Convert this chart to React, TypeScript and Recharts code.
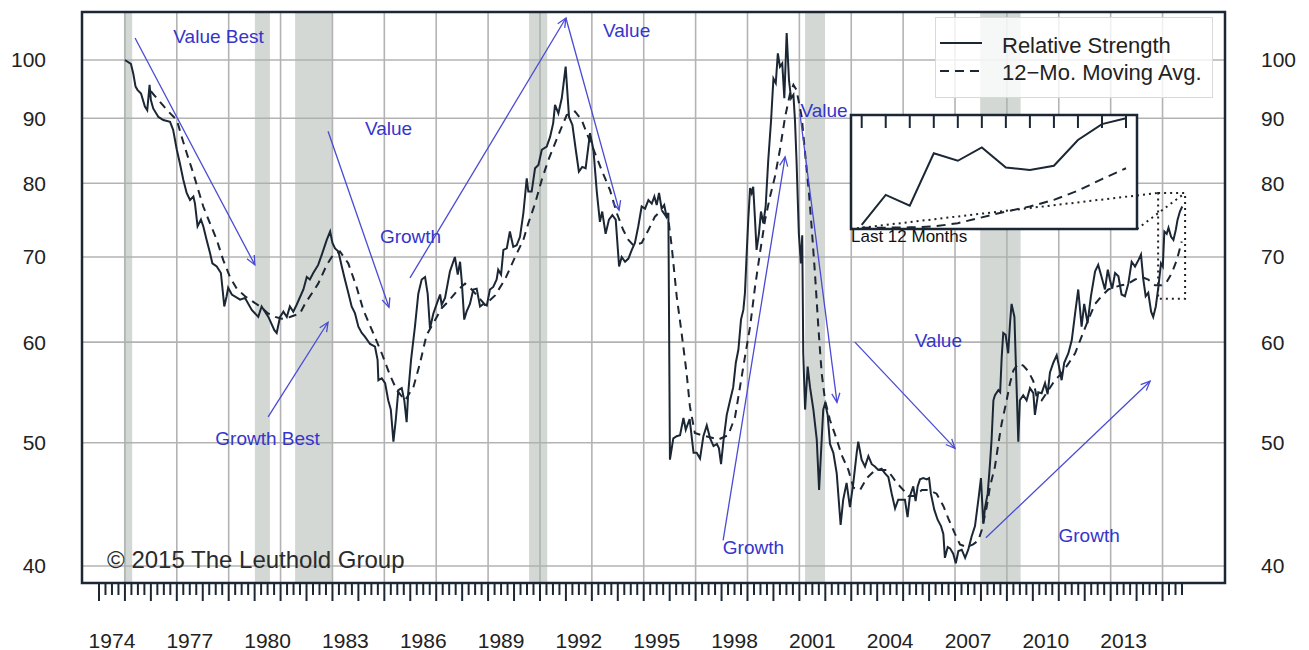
import React from "react";
import {
  LineChart,
  Line,
  XAxis,
  YAxis,
  CartesianGrid,
  ReferenceArea,
  ReferenceLine,
  ReferenceDot,
} from "recharts";

// Relative strength (value vs growth) at its turning points
const rsYears = [
  1975.0, 1975.23, 1975.32, 1975.41, 1975.49, 1975.62, 1975.77, 1975.86, 1975.95, 1976.0,
  1976.09, 1976.29, 1976.48, 1976.74, 1976.86, 1977.0, 1977.12, 1977.25, 1977.38, 1977.51,
  1977.64, 1977.7, 1977.8, 1977.93, 1978.02, 1978.15, 1978.28, 1978.37, 1978.54, 1978.7,
  1978.83, 1978.92, 1978.98, 1979.12, 1979.44, 1979.63, 1979.89, 1980.14, 1980.27, 1980.53,
  1980.76, 1980.85, 1980.98, 1981.11, 1981.24, 1981.36, 1981.49, 1981.62, 1981.88, 1982.01,
  1982.13, 1982.26, 1982.45, 1982.59, 1982.69, 1982.78, 1982.91, 1983.0, 1983.1, 1983.23,
  1983.36, 1983.48, 1983.61, 1983.74, 1983.87, 1984.0, 1984.13, 1984.25, 1984.45, 1984.64,
  1984.74, 1984.77, 1984.9, 1985.03, 1985.15, 1985.25, 1985.35, 1985.44, 1985.54, 1985.67,
  1985.77, 1985.86, 1985.92, 1986.03, 1986.18, 1986.31, 1986.44, 1986.57, 1986.67, 1986.76,
  1986.89, 1987.02, 1987.15, 1987.21, 1987.34, 1987.53, 1987.72, 1987.83, 1987.92, 1987.98,
  1988.08, 1988.17, 1988.3, 1988.43, 1988.56, 1988.69, 1988.82, 1988.95, 1989.07, 1989.2,
  1989.33, 1989.39, 1989.5, 1989.59, 1989.72, 1989.84, 1989.97, 1990.1, 1990.23, 1990.36,
  1990.49, 1990.55, 1990.68, 1990.81, 1990.94, 1991.07, 1991.26, 1991.39, 1991.51, 1991.58,
  1991.71, 1991.84, 1991.99, 1992.12, 1992.25, 1992.38, 1992.5, 1992.63, 1992.76, 1992.93,
  1993.06, 1993.19, 1993.31, 1993.4, 1993.53, 1993.66, 1993.79, 1993.92, 1994.05, 1994.15,
  1994.28, 1994.41, 1994.54, 1994.66, 1994.79, 1994.92, 1995.05, 1995.18, 1995.31, 1995.41,
  1995.5, 1995.59, 1995.69, 1995.79, 1995.88, 1995.95, 1996.01, 1996.14, 1996.27, 1996.4,
  1996.53, 1996.62, 1996.77, 1996.92, 1997.04, 1997.17, 1997.3, 1997.43, 1997.56, 1997.69,
  1997.82, 1997.9, 1997.98, 1998.07, 1998.2, 1998.33, 1998.45, 1998.55, 1998.65, 1998.75,
  1998.84, 1998.9, 1998.97, 1999.03, 1999.1, 1999.16, 1999.22, 1999.29, 1999.35, 1999.44,
  1999.52, 1999.61, 1999.7, 1999.8, 1999.91, 2000.0, 2000.09, 2000.17, 2000.25, 2000.34,
  2000.42, 2000.51, 2000.6, 2000.68, 2000.77, 2000.83, 2000.89, 2000.98, 2001.06, 2001.11,
  2001.15, 2001.22, 2001.32, 2001.41, 2001.54, 2001.67, 2001.76, 2001.86, 2001.92, 2001.99,
  2002.09, 2002.18, 2002.31, 2002.44, 2002.59, 2002.69, 2002.82, 2002.95, 2003.08, 2003.21,
  2003.27, 2003.4, 2003.53, 2003.66, 2003.79, 2003.91, 2004.04, 2004.17, 2004.3, 2004.43,
  2004.56, 2004.69, 2004.81, 2004.94, 2005.07, 2005.17, 2005.26, 2005.39, 2005.48, 2005.56,
  2005.65, 2005.78, 2005.91, 2006.0, 2006.07, 2006.2, 2006.33, 2006.46, 2006.55, 2006.61,
  2006.72, 2006.81, 2006.93, 2007.03, 2007.13, 2007.26, 2007.39, 2007.51, 2007.64, 2007.77,
  2007.9, 2008.0, 2008.09, 2008.16, 2008.26, 2008.35, 2008.41, 2008.48, 2008.54, 2008.67,
  2008.74, 2008.8, 2008.86, 2008.95, 2009.05, 2009.12, 2009.18, 2009.29, 2009.35, 2009.44,
  2009.5, 2009.63, 2009.76, 2009.89, 2010.02, 2010.08, 2010.21, 2010.34, 2010.47, 2010.57,
  2010.66, 2010.79, 2010.92, 2011.01, 2011.11, 2011.21, 2011.37, 2011.5, 2011.63, 2011.75,
  2011.88, 2011.98, 2012.11, 2012.24, 2012.4, 2012.52, 2012.65, 2012.78, 2012.89, 2012.97,
  2013.06, 2013.17, 2013.3, 2013.42, 2013.55, 2013.68, 2013.81, 2013.94, 2014.07, 2014.17,
  2014.26, 2014.35, 2014.45, 2014.56, 2014.64, 2014.74, 2014.84, 2014.94, 2015.01, 2015.07,
  2015.16, 2015.23, 2015.33, 2015.42, 2015.51, 2015.58, 2015.67, 2015.76,
];
const rsValues = [
  100.0, 99.3, 97.6, 95.3, 94.7, 94.1, 91.9, 91.3, 95.6, 93.0,
  91.6, 90.2, 89.7, 89.4, 88.1, 85.0, 82.9, 80.5, 78.6, 77.6,
  78.1, 77.1, 74.0, 74.9, 74.0, 72.2, 70.5, 69.2, 68.8, 68.0,
  64.0, 65.2, 66.2, 65.4, 64.8, 65.0, 63.6, 62.8, 64.0, 62.8,
  61.3, 61.0, 62.8, 63.4, 62.8, 64.0, 63.4, 64.2, 66.0, 67.5,
  67.2, 68.0, 69.0, 70.3, 71.3, 72.2, 73.3, 71.8, 71.1, 70.7,
  68.8, 67.2, 65.6, 64.0, 63.2, 61.7, 61.0, 60.6, 59.8, 59.5,
  58.1, 56.0, 56.2, 55.7, 54.0, 53.1, 50.1, 52.1, 55.0, 55.2,
  54.0, 51.9, 54.7, 58.1, 61.7, 65.5, 67.2, 67.5, 65.5, 61.5,
  63.2, 64.3, 65.4, 64.2, 65.0, 68.2, 70.0, 67.8, 69.4, 67.2,
  62.5, 63.4, 64.3, 66.0, 66.1, 64.0, 64.3, 64.1, 66.0, 66.3,
  67.2, 68.4, 67.8, 70.9, 71.1, 73.3, 71.3, 71.5, 72.6, 75.8,
  80.7, 78.8, 78.8, 82.2, 82.7, 85.0, 85.5, 87.0, 89.2, 92.2,
  90.8, 93.3, 98.8, 90.2, 88.9, 85.0, 81.7, 82.4, 82.2, 87.6,
  85.0, 78.8, 74.6, 76.0, 73.0, 74.9, 75.5, 74.9, 68.8, 70.0,
  69.4, 69.8, 70.9, 71.8, 74.0, 76.7, 76.4, 77.6, 77.1, 78.1,
  76.9, 78.6, 76.4, 76.9, 75.3, 75.8, 48.5, 50.4, 50.6, 50.7,
  52.3, 51.2, 52.2, 49.1, 49.1, 48.6, 50.6, 51.6, 50.4, 49.7,
  49.9, 49.5, 48.1, 50.1, 52.6, 54.0, 55.3, 57.8, 59.2, 62.5,
  63.6, 65.5, 70.5, 74.9, 79.3, 78.6, 79.5, 74.9, 70.9, 73.0,
  76.0, 74.4, 76.7, 83.4, 89.7, 96.7, 95.9, 101.2, 98.8, 99.4,
  93.3, 105.0, 96.4, 93.3, 93.9, 89.7, 83.4, 73.0, 69.2, 72.8,
  58.8, 53.1, 57.4, 55.3, 53.1, 50.3, 45.9, 50.3, 53.1, 53.7,
  52.6, 49.9, 49.1, 47.3, 43.1, 45.1, 46.5, 44.5, 46.5, 49.1,
  50.1, 48.5, 47.9, 48.8, 48.1, 47.9, 47.6, 47.7, 47.3, 47.0,
  45.6, 44.4, 45.1, 45.1, 45.1, 43.7, 45.4, 46.2, 45.0, 46.2,
  46.8, 46.9, 46.8, 46.9, 45.6, 44.3, 43.5, 43.0, 42.4, 40.6,
  41.4, 41.3, 40.9, 40.2, 41.1, 41.2, 40.6, 41.2, 42.2, 43.0,
  45.1, 46.9, 43.2, 44.5, 45.6, 48.2, 50.3, 54.0, 54.5, 55.0,
  54.8, 58.4, 61.0, 60.8, 58.8, 62.1, 64.3, 62.8, 57.3, 50.1,
  54.0, 54.5, 54.0, 55.2, 54.7, 52.6, 54.8, 54.7, 55.7, 54.6,
  56.8, 57.8, 58.6, 57.4, 56.0, 57.8, 58.8, 60.2, 63.2, 66.0,
  61.7, 64.3, 62.1, 65.2, 68.2, 69.0, 67.5, 66.0, 68.4, 67.2,
  66.1, 68.0, 67.6, 65.4, 65.2, 66.7, 69.4, 68.8, 69.6, 70.3,
  67.2, 65.2, 65.6, 63.4, 62.8, 64.0, 66.3, 69.2, 68.8, 73.3,
  73.0, 73.8, 72.6, 72.2, 73.5, 74.9, 76.0, 76.7,
];

// 12-month moving average
const maYears = [
  1976.0, 1976.67, 1977.0, 1977.19, 1977.38, 1977.64, 1977.83, 1978.02, 1978.28, 1978.54,
  1978.79, 1979.05, 1979.31, 1979.63, 1979.82, 1980.21, 1980.52, 1980.79, 1981.05, 1981.36,
  1981.75, 1981.94, 1982.45, 1982.78, 1983.03, 1983.29, 1983.61, 1983.93, 1984.19, 1984.57,
  1984.9, 1985.22, 1985.48, 1985.8, 1986.12, 1986.37, 1986.63, 1986.89, 1987.21, 1987.47,
  1987.85, 1988.11, 1988.37, 1988.88, 1989.27, 1989.65, 1990.04, 1990.36, 1990.55, 1990.81,
  1991.07, 1991.32, 1991.58, 1991.84, 1992.03, 1992.35, 1992.61, 1992.86, 1993.12, 1993.38,
  1993.7, 1993.96, 1994.21, 1994.41, 1994.6, 1994.92, 1995.18, 1995.43, 1995.69, 1995.95,
  1996.08, 1996.27, 1996.46, 1996.65, 1996.78, 1996.97, 1997.23, 1997.88, 1998.26, 1998.52,
  1998.71, 1998.9, 1999.1, 1999.29, 1999.48, 1999.68, 1999.87, 2000.06, 2000.25, 2000.45,
  2000.64, 2000.77, 2000.89, 2001.09, 2001.22, 2001.37, 2001.47, 2001.6, 2001.73, 2001.86,
  2001.99, 2002.18, 2002.44, 2002.63, 2002.89, 2003.08, 2003.34, 2003.6, 2003.92, 2004.37,
  2004.56, 2004.75, 2005.01, 2005.2, 2005.46, 2005.72, 2005.97, 2006.29, 2006.55, 2006.74,
  2007.0, 2007.19, 2007.45, 2007.7, 2007.9, 2008.03, 2008.22, 2008.35, 2008.54, 2008.67,
  2008.8, 2008.99, 2009.12, 2009.25, 2009.44, 2009.63, 2009.83, 2010.02, 2010.15, 2010.34,
  2010.6, 2010.85, 2011.11, 2011.37, 2011.63, 2011.88, 2012.14, 2012.4, 2012.65, 2012.91,
  2013.17, 2013.42, 2013.68, 2013.94, 2014.2, 2014.45, 2014.71, 2014.97, 2015.16, 2015.36,
  2015.55, 2015.74,
];
const maValues = [
  94.5, 91.1, 89.7, 87.0, 84.5, 81.4, 79.0, 76.7, 74.4, 72.2,
  69.6, 67.5, 66.1, 65.2, 64.8, 64.0, 63.2, 62.8, 62.6, 62.8,
  63.2, 64.3, 66.7, 69.0, 70.3, 70.7, 69.2, 66.3, 63.6, 61.0,
  58.8, 56.5, 55.0, 54.0, 55.3, 57.7, 60.8, 62.1, 63.8, 64.6,
  66.0, 66.7, 66.0, 64.2, 65.3, 67.2, 70.0, 72.2, 74.4, 77.1,
  80.5, 83.4, 86.0, 88.6, 90.5, 91.1, 89.7, 87.0, 84.5, 81.9,
  79.0, 75.8, 73.5, 72.2, 71.5, 71.8, 73.5, 75.3, 76.2, 74.9,
  71.3, 65.2, 61.0, 56.8, 53.4, 50.9, 50.7, 50.3, 50.7, 52.4,
  55.3, 58.4, 61.7, 66.3, 70.5, 74.9, 78.1, 81.0, 85.0, 90.2,
  94.1, 95.6, 94.7, 90.2, 84.5, 78.6, 74.0, 68.0, 61.7, 56.7,
  54.0, 52.1, 50.3, 48.9, 47.6, 46.1, 45.9, 46.9, 47.6, 47.6,
  47.1, 46.5, 45.9, 45.4, 45.4, 45.9, 45.9, 45.6, 44.6, 43.6,
  42.4, 41.6, 41.4, 41.6, 41.9, 42.7, 44.5, 46.2, 47.9, 49.9,
  51.8, 54.0, 55.7, 57.0, 57.7, 57.5, 56.9, 55.9, 54.3, 54.0,
  55.0, 56.0, 56.7, 57.7, 58.8, 60.6, 62.5, 64.3, 65.2, 66.0,
  66.3, 66.5, 66.7, 67.2, 67.5, 67.2, 66.5, 66.5, 66.9, 68.0,
  69.6, 72.0,
];

// recessions (shaded)
const recessionStarts = [1974.96, 1980.01, 1981.56, 1990.58, 2001.22, 2007.97];
const recessionEnds = [1975.28, 1980.59, 1982.98, 1991.28, 2001.99, 2009.53];

const yTicks = [40, 50, 60, 70, 80, 90, 100];
const labelYears = [1974, 1977, 1980, 1983, 1986, 1989, 1992, 1995, 1998, 2001, 2004, 2007, 2010, 2013];
const firstGridYear = 1974;
const lastGridYear = 2015;

// inset: last 12 months
const insetMonths = [1, 2, 3, 4, 5, 6, 7, 8, 9, 10, 11, 12];
const insetRs = [65.4, 69.0, 67.7, 74.0, 73.1, 74.7, 72.3, 72.0, 72.5, 75.6, 77.5, 78.2];
const insetMa = [65.06, 65.06, 65.1, 65.2, 65.6, 66.3, 67.0, 67.6, 68.4, 69.5, 70.9, 72.2];

const notes = [
  { text: "Value Best", t: 1978.61, v: 104.44 },
  { text: "Value", t: 1985.16, v: 88.3 },
  { text: "Growth", t: 1986.01, v: 72.6 },
  { text: "Value", t: 1994.34, v: 105.4 },
  { text: "Growth Best", t: 1980.5, v: 50.35 },
  { text: "Growth", t: 1999.23, v: 41.4 },
  { text: "Value", t: 2001.95, v: 91.3 },
  { text: "Value", t: 2006.36, v: 60.2 },
  { text: "Growth", t: 2012.17, v: 42.3 },
];

const arrows = [
  { from: [1975.39, 104.07], to: [1980.01, 69.0] },
  { from: [1982.83, 87.9], to: [1985.18, 63.9] },
  { from: [1985.99, 67.4], to: [1992.0, 107.9] },
  { from: [1992.0, 107.9], to: [1994.05, 76.2] },
  { from: [1980.52, 52.4], to: [1982.83, 62.2] },
  { from: [1998.06, 41.9], to: [2000.45, 83.9] },
  { from: [2001.02, 90.8], to: [2002.45, 53.8] },
  { from: [2003.14, 60.0], to: [2007.0, 49.5] },
  { from: [2008.19, 42.1], to: [2014.52, 55.9] },
];

const X_DOMAIN: [number, number] = [1973.345, 2017.408];
const Y_DOMAIN: [number, number] = [38.79, 109.08];
const INSET_BOX = { x1: 2002.99, x2: 2014.016, y1: 73.64, y2: 90.52 };
const ZOOM_BOX = { x1: 2014.83, x2: 2015.87, y1: 64.9, y2: 78.6 };

const INK = "#1b2734";
const BLUE_TEXT = "#3535cc";
const BLUE_LINE = "#4a4ad4";

const rsData = rsYears.map((t, i) => ({ t, v: rsValues[i] }));
const maData = maYears.map((t, i) => ({ t, v: maValues[i] }));
const insetRsData = insetMonths.map((m, i) => ({ m, v: insetRs[i] }));
const insetMaData = insetMonths.map((m, i) => ({ m, v: insetMa[i] }));

const gridYears: number[] = [];
for (let y = firstGridYear; y <= lastGridYear; y++) gridYears.push(y);
const quarterTicks: number[] = [];
for (let y = firstGridYear; y <= lastGridYear; y++) {
  [0, 0.25, 0.5, 0.75].forEach((q) => quarterTicks.push(y + q));
}

const YearTick = (props: any) => {
  const { x, y, payload } = props;
  const v = payload.value;
  const major = Math.abs(v - Math.round(v)) < 0.001;
  const label = labelYears.find((yr) => Math.abs(yr + 0.5 - v) < 0.001);
  return (
    <g>
      <line x1={x} x2={x} y1={y} y2={y + (major ? 18 : 12)} stroke={INK} strokeWidth={2} />
      {label !== undefined && (
        <text x={x} y={y + 57} textAnchor="middle" dominantBaseline="central" fontSize={21} fill="#222">
          {label}
        </text>
      )}
    </g>
  );
};

const ArrowShape = (props: any) => {
  const { x1, y1, x2, y2 } = props;
  const ang = Math.atan2(y2 - y1, x2 - x1);
  const len = 10;
  const spread = 0.42;
  const ax = x2 - len * Math.cos(ang - spread);
  const ay = y2 - len * Math.sin(ang - spread);
  const bx = x2 - len * Math.cos(ang + spread);
  const by = y2 - len * Math.sin(ang + spread);
  return (
    <g>
      <line x1={x1} y1={y1} x2={x2} y2={y2} stroke={BLUE_LINE} strokeWidth={1.3} />
      <polyline points={`${ax},${ay} ${x2},${y2} ${bx},${by}`} fill="none" stroke={BLUE_LINE} strokeWidth={1.3} />
    </g>
  );
};

const textShape = (text: string, size: number, color: string, anchor: string) => (p: any) => (
  <text x={p.cx} y={p.cy} textAnchor={anchor} dominantBaseline="central" fontSize={size} fill={color}>
    {text}
  </text>
);

export default function App() {
  return (
    <div
      style={{
        position: "absolute",
        left: 0,
        top: 0,
        width: 1309,
        height: 650,
        background: "#fff",
        fontFamily: '"Liberation Sans", Arial, sans-serif',
      }}
    >
      <LineChart width={1309} height={650} margin={{ top: 12, right: 14, bottom: 0, left: 12 }}>
        <XAxis
          type="number"
          dataKey="t"
          domain={X_DOMAIN}
          allowDataOverflow
          ticks={quarterTicks}
          interval={0}
          height={67}
          tickSize={0}
          tickMargin={0}
          axisLine={false}
          tickLine={false}
          tick={<YearTick />}
        />
        <XAxis xAxisId="grid" type="number" dataKey="t" domain={X_DOMAIN} allowDataOverflow ticks={gridYears} hide />
        <YAxis
          yAxisId="left"
          scale="log"
          domain={Y_DOMAIN}
          allowDataOverflow
          ticks={yTicks}
          width={70}
          tickSize={0}
          tickMargin={36}
          axisLine={false}
          tickLine={false}
          tick={{ fontSize: 21, fill: "#222" }}
        />
        <YAxis
          yAxisId="right"
          orientation="right"
          scale="log"
          domain={Y_DOMAIN}
          allowDataOverflow
          ticks={yTicks}
          width={70}
          tickSize={0}
          tickMargin={36}
          axisLine={false}
          tickLine={false}
          tick={{ fontSize: 21, fill: "#222" }}
        />
        <CartesianGrid xAxisId="grid" yAxisId="left" stroke="#b3b3b3" strokeWidth={1.6} />

        {recessionStarts.map((s, i) => (
          <ReferenceArea
            key={"rec" + i}
            yAxisId="left"
            x1={s}
            x2={recessionEnds[i]}
            fill="#a8b2ac"
            fillOpacity={0.5}
            stroke="none"
          />
        ))}

        <Line
          data={maData}
          dataKey="v"
          yAxisId="left"
          type="linear"
          stroke={INK}
          strokeWidth={2}
          strokeDasharray="8 6"
          dot={false}
          isAnimationActive={false}
        />
        <Line
          data={rsData}
          dataKey="v"
          yAxisId="left"
          type="linear"
          stroke={INK}
          strokeWidth={2}
          dot={false}
          isAnimationActive={false}
        />

        <ReferenceArea
          yAxisId="left"
          x1={INSET_BOX.x1}
          x2={INSET_BOX.x2}
          y1={INSET_BOX.y1}
          y2={INSET_BOX.y2}
          fill="#fff"
          fillOpacity={1}
          stroke={INK}
          strokeWidth={2.5}
        />
        <ReferenceArea
          yAxisId="left"
          x1={ZOOM_BOX.x1}
          x2={ZOOM_BOX.x2}
          y1={ZOOM_BOX.y1}
          y2={ZOOM_BOX.y2}
          fill="none"
          stroke="#222"
          strokeWidth={2}
          strokeDasharray="2 4"
        />
        <ReferenceLine
          yAxisId="left"
          segment={[
            { x: INSET_BOX.x1, y: INSET_BOX.y1 },
            { x: ZOOM_BOX.x1, y: ZOOM_BOX.y2 },
          ]}
          stroke="#222"
          strokeWidth={2}
          strokeDasharray="2 4"
        />
        <ReferenceLine
          yAxisId="left"
          segment={[
            { x: INSET_BOX.x2, y: INSET_BOX.y1 },
            { x: ZOOM_BOX.x2, y: ZOOM_BOX.y2 },
          ]}
          stroke="#222"
          strokeWidth={2}
          strokeDasharray="2 4"
        />

        {arrows.map((a, i) => (
          <ReferenceLine
            key={"arr" + i}
            yAxisId="left"
            segment={[
              { x: a.from[0], y: a.from[1] },
              { x: a.to[0], y: a.to[1] },
            ]}
            shape={(p: any) => <ArrowShape {...p} />}
          />
        ))}
        {notes.map((n, i) => (
          <ReferenceDot
            key={"note" + i}
            yAxisId="left"
            x={n.t}
            y={n.v}
            r={0}
            shape={textShape(n.text, 19, BLUE_TEXT, "middle")}
          />
        ))}
        <ReferenceDot
          yAxisId="left"
          x={1974.31}
          y={40.44}
          r={0}
          shape={textShape("\u00a9 2015 The Leuthold Group", 24, "#2b2b2b", "start")}
        />
        <ReferenceDot
          yAxisId="left"
          x={INSET_BOX.x1}
          y={72.6}
          r={0}
          shape={textShape("Last 12 Months", 17, "#111", "start")}
        />

        <ReferenceArea
          yAxisId="left"
          x1={X_DOMAIN[0]}
          x2={X_DOMAIN[1]}
          y1={Y_DOMAIN[0]}
          y2={Y_DOMAIN[1]}
          fill="none"
          stroke={INK}
          strokeWidth={2.5}
          ifOverflow="visible"
        />
      </LineChart>

      {/* inset: last 12 months */}
      <div style={{ position: "absolute", left: 851, top: 115, width: 286, height: 114 }}>
        <LineChart width={286} height={114} margin={{ top: 0, right: 11, bottom: 0, left: 10.7 }}>
          <XAxis
            type="number"
            dataKey="m"
            domain={[1, 12]}
            ticks={insetMonths}
            interval={0}
            orientation="top"
            mirror
            tickSize={13}
            axisLine={false}
            tickLine={{ stroke: INK, strokeWidth: 2 }}
            tickFormatter={() => ""}
          />
          <YAxis hide domain={[64.9, 78.6]} allowDataOverflow />
          <Line
            data={insetMaData}
            dataKey="v"
            type="linear"
            stroke={INK}
            strokeWidth={2}
            strokeDasharray="9 6"
            dot={false}
            isAnimationActive={false}
          />
          <Line
            data={insetRsData}
            dataKey="v"
            type="linear"
            stroke={INK}
            strokeWidth={2}
            dot={false}
            isAnimationActive={false}
          />
        </LineChart>
      </div>

      {/* legend */}
      <div
        style={{
          position: "absolute",
          left: 935,
          top: 17,
          width: 278,
          height: 81,
          boxSizing: "border-box",
          border: "1px solid #d9d9d9",
          background: "rgba(255,255,255,0.8)",
        }}
      >
        <svg width={278} height={81} style={{ position: "absolute", left: -1, top: -1 }}>
          <line x1={5} x2={47} y1={26} y2={26} stroke={INK} strokeWidth={2} />
          <text x={67} y={28} dominantBaseline="central" fontSize={22} fill="#222">
            Relative Strength
          </text>
          <line x1={5} x2={44} y1={54} y2={54} stroke={INK} strokeWidth={2} strokeDasharray="9 6" />
          <text x={67} y={55} dominantBaseline="central" fontSize={22} fill="#222">
            12{"\u2212"}Mo. Moving Avg.
          </text>
        </svg>
      </div>
    </div>
  );
}
